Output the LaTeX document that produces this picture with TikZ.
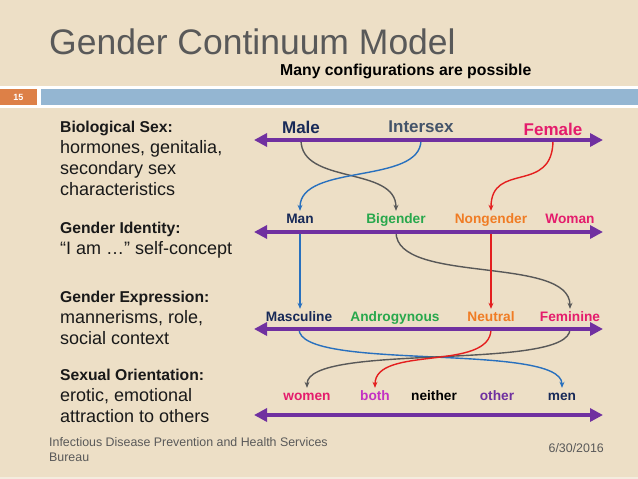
\documentclass[tikz,border=0pt]{standalone}
\usepackage{fontspec}
\setmainfont{Liberation Sans}
\usetikzlibrary{arrows.meta,calc}
\definecolor{bg}{RGB}{237,223,198}
\definecolor{bglight}{RGB}{244,236,222}
\definecolor{titlegray}{RGB}{89,89,89}
\definecolor{txt}{RGB}{25,25,25}
\definecolor{barblue}{RGB}{148,182,210}
\definecolor{barorange}{RGB}{221,128,71}
\definecolor{axpurple}{RGB}{112,48,160}
\definecolor{navy}{RGB}{24,42,88}
\definecolor{slate}{RGB}{68,84,106}
\definecolor{pinkc}{RGB}{228,28,108}
\definecolor{greenc}{RGB}{40,168,76}
\definecolor{orangec}{RGB}{240,124,36}
\definecolor{magc}{RGB}{196,48,196}
\definecolor{othc}{RGB}{112,48,160}
\definecolor{cgray}{RGB}{88,88,88}
\definecolor{cblue}{RGB}{40,112,190}
\definecolor{cred}{RGB}{228,30,30}
\newcommand\myfs[1]{\fontsize{#1}{#1}\selectfont}
\begin{document}
\begin{tikzpicture}[x=1pt,y=-1pt,
  axis/.style={draw=axpurple, line width=4.3pt, {Triangle[length=13pt,width=13pt]}-{Triangle[length=13pt,width=13pt]}},
  lbig/.style={anchor=base, inner sep=1pt, text height=12pt, text depth=3pt, font=\bfseries\myfs{17}},
  lab/.style={anchor=base, inner sep=1pt, text height=11pt, text depth=3pt, font=\bfseries\myfs{13.7}},
  head/.style={anchor=base west, inner sep=0pt, font=\bfseries\myfs{15.7}, text=txt},
  body/.style={anchor=base west, inner sep=0pt, font=\myfs{18}, text=txt},
  conn/.style={line width=1.4pt, -{Stealth[length=6pt,width=5pt]}},
  foot/.style={anchor=base west, inner sep=0pt, font=\myfs{12.4}, text=titlegray}]
\useasboundingbox (0,0) rectangle (638,479);
\fill[bg] (0,0) rectangle (638,479);
\fill[bglight] (0,476.5) rectangle (638,479);

% title
\node[anchor=base west, inner sep=0pt, font=\myfs{35.5}, text=titlegray] (title) at (49,54) {Gender Continuum Model};
\node[anchor=base west, inner sep=0pt, font=\bfseries\myfs{15.8}, text=black] (sub) at (280,75) {Many configurations are possible};

% strip
\fill[white] (0,86) rectangle (638,108);
\fill[barorange] (0,89) rectangle (37,105);
\fill[barblue] (41,89) rectangle (638,105);
\node[font=\bfseries\myfs{9}, text=white, inner sep=0pt] (num) at (18.5,97) {15};

% left texts
\node[head] (h1) at (60,132) {Biological Sex:};
\node[body] (b1a) at (60,153) {hormones, genitalia,};
\node[body] (b1b) at (60,174) {secondary sex};
\node[body] (b1c) at (60,195) {characteristics};
\node[head] (h2) at (60,233) {Gender Identity:};
\node[body] (b2a) at (60,254) {“I am …” self-concept};
\node[head] (h3) at (60,302) {Gender Expression:};
\node[body] (b3a) at (60,323) {mannerisms, role,};
\node[body] (b3b) at (60,344) {social context};
\node[head] (h4) at (60,380) {Sexual Orientation:};
\node[body] (b4a) at (60,401) {erotic, emotional};
\node[body] (b4b) at (60,422) {attraction to others};

% footer
\node[foot] (f1) at (49,446) {Infectious Disease Prevention and Health Services};
\node[foot] (f2) at (49,461) {Bureau};
\node[foot, anchor=base east] (date) at (604,452) {6/30/2016};

% axis coordinates
\coordinate (A1l) at (254,140); \coordinate (A1r) at (603,140);
\coordinate (A2l) at (254,232); \coordinate (A2r) at (603,232);
\coordinate (A3l) at (254,329); \coordinate (A3r) at (603,329);
\coordinate (A4l) at (254,415); \coordinate (A4r) at (603,415);

% level 1
\node[lbig, text=navy] (Male) at (301,133) {Male};
\node[lbig, text=slate] (Intersex) at (421,132) {Intersex};
\node[lbig, text=pinkc] (Female) at (553,135) {Female};
% level 2
\node[lab, text=navy] (Man) at (300,223) {Man};
\node[lab, text=greenc] (Bigender) at (396,223) {Bigender};
\node[lab, text=orangec] (Nongender) at (491,223) {Nongender};
\node[lab, text=pinkc] (Woman) at (570,223) {Woman};
% level 3
\node[lab, text=navy] (Masculine) at (299,321) {Masculine};
\node[lab, text=greenc] (Androgynous) at (395,321) {Androgynous};
\node[lab, text=orangec] (Neutral) at (491,321) {Neutral};
\node[lab, text=pinkc] (Feminine) at (570,321) {Feminine};
% level 4
\node[lab, text=pinkc] (women) at (307,400) {women};
\node[lab, text=magc] (both) at (375,400) {both};
\node[lab, text=black] (neither) at (434,400) {neither};
\node[lab, text=othc] (other) at (497,400) {other};
\node[lab, text=navy] (men) at (562,400) {men};

% connectors level 1 -> 2
\draw[conn, cgray] (Male |- A1l) .. controls ($(Male |- A1l)+(0,45)$) and ($(Bigender.north)+(0,-45)$) .. (Bigender.north);
\draw[conn, cblue] (Intersex |- A1l) .. controls ($(Intersex |- A1l)+(0,45)$) and ($(Man.north)+(0,-48)$) .. (Man.north);
\draw[conn, cred] (Female |- A1l) .. controls ($(Female |- A1l)+(0,55)$) and ($(Nongender.north)+(0,-50)$) .. (Nongender.north);
% level 2 -> 3
\draw[conn, cblue] (Man |- A2l) -- (Man |- Masculine.north);
\draw[conn, cgray] (Bigender |- A2l) .. controls ($(Bigender |- A2l)+(0,53)$) and ($(Feminine.north)+(0,-54)$) .. (Feminine.north);
\draw[conn, cred] (Nongender |- A2l) -- (Nongender |- Neutral.north);
% level 3 -> 4
\draw[conn, cblue] (Masculine |- A3l) .. controls ($(Masculine |- A3l)+(0,43)$) and ($(men.north)+(0,-46)$) .. (men.north);
\draw[conn, cgray] (Feminine |- A3l) .. controls ($(Feminine |- A3l)+(0,43)$) and ($(women.north)+(0,-46)$) .. (women.north);
\draw[conn, cred] (Neutral |- A3l) .. controls ($(Neutral |- A3l)+(0,43)$) and ($(both.north)+(0,-43)$) .. (both.north);

% axes
\draw[axis] (A1l) -- (A1r);
\draw[axis] (A2l) -- (A2r);
\draw[axis] (A3l) -- (A3r);
\draw[axis] (A4l) -- (A4r);
\end{tikzpicture}
\end{document}
